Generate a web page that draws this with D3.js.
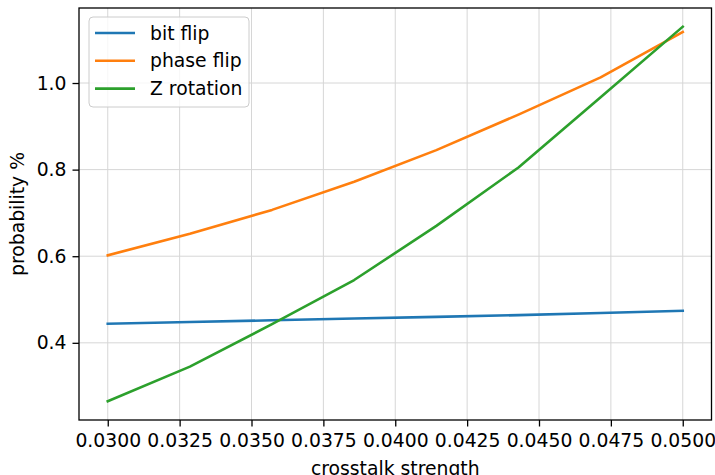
<!DOCTYPE html>
<html>
<head>
<meta charset="utf-8">
<script src="https://cdn.jsdelivr.net/npm/d3@7"></script>
<style>
  html, body { margin: 0; padding: 0; background: #fff; }
  svg { display: block; font-family: "DejaVu Sans", sans-serif; }
</style>
</head>
<body>
<svg id="chart" width="715" height="475"></svg>
<script>
// Crosstalk strength samples (8 evenly spaced points from 0.03 to 0.05)
const crosstalk = [0.03, 0.032857, 0.035714, 0.038571, 0.041429, 0.044286, 0.047143, 0.05];

// Error probabilities (%) per error type
const bitFlip   = [0.444, 0.448, 0.452, 0.456, 0.460, 0.464, 0.469, 0.474];
const phaseFlip = [0.602, 0.652, 0.707, 0.772, 0.845, 0.927, 1.013, 1.118];
const zRotation = [0.265, 0.345, 0.443, 0.545, 0.670, 0.805, 0.967, 1.130];

const seriesNames  = ["bit flip", "phase flip", "Z rotation"];
const seriesColors = ["#1f77b4", "#ff7f0e", "#2ca02c"];

const xTicks = [0.03, 0.0325, 0.035, 0.0375, 0.04, 0.0425, 0.045, 0.0475, 0.05];
const yTicks = [0.4, 0.6, 0.8, 1.0];

const series = [bitFlip, phaseFlip, zRotation].map((vals, i) => ({
  name: seriesNames[i],
  color: seriesColors[i],
  points: vals.map((v, j) => ({ x: crosstalk[j], y: v }))
}));

const svg = d3.select("#chart");
const plot = { left: 79, right: 711.5, top: 8, bottom: 420 };
const fontSize = 18.8;

// Axis limits with a 5% margin around the data extent
function padded(ext) {
  const d = (ext[1] - ext[0]) * 0.05;
  return [ext[0] - d, ext[1] + d];
}
const allY = [].concat(bitFlip, phaseFlip, zRotation);
const x = d3.scaleLinear().domain(padded(d3.extent(crosstalk))).range([plot.left, plot.right]);
const y = d3.scaleLinear().domain(padded(d3.extent(allY))).range([plot.bottom, plot.top]);

// Grid
const grid = svg.append("g").attr("stroke", "#d6d6d6").attr("stroke-width", 1);
xTicks.forEach(t => grid.append("line")
  .attr("x1", x(t)).attr("x2", x(t)).attr("y1", plot.top).attr("y2", plot.bottom));
yTicks.forEach(t => grid.append("line")
  .attr("x1", plot.left).attr("x2", plot.right).attr("y1", y(t)).attr("y2", y(t)));

// Lines
const line = d3.line().x(d => x(d.x)).y(d => y(d.y));
svg.append("g").selectAll("path").data(series).join("path")
  .attr("d", d => line(d.points))
  .attr("fill", "none")
  .attr("stroke", d => d.color)
  .attr("stroke-width", 2.6)
  .attr("stroke-linecap", "square")
  .attr("stroke-linejoin", "round");

// Axes
const xAxis = d3.axisBottom(x).tickValues(xTicks).tickFormat(d3.format(".4f"))
  .tickSize(6.5).tickPadding(7);
const yAxis = d3.axisLeft(y).tickValues(yTicks).tickFormat(d3.format(".1f"))
  .tickSize(6.5).tickPadding(6);

const gx = svg.append("g").attr("transform", `translate(0,${plot.bottom})`).call(xAxis);
const gy = svg.append("g").attr("transform", `translate(${plot.left},0)`).call(yAxis);
[gx, gy].forEach(g => {
  g.select(".domain").remove();
  g.selectAll(".tick line").attr("stroke", "#000").attr("stroke-width", 1.3);
  g.selectAll(".tick text").attr("fill", "#000")
    .style("font-family", "'DejaVu Sans', sans-serif").style("font-size", fontSize + "px");
});

// Frame
svg.append("rect")
  .attr("x", plot.left).attr("y", plot.top)
  .attr("width", plot.right - plot.left).attr("height", plot.bottom - plot.top)
  .attr("fill", "none").attr("stroke", "#000").attr("stroke-width", 1.3);

// Axis titles
svg.append("text")
  .attr("x", (plot.left + plot.right) / 2).attr("y", 475)
  .attr("text-anchor", "middle").style("font-size", fontSize + "px")
  .text("crosstalk strength");
svg.append("text")
  .attr("transform", `translate(24,${(plot.top + plot.bottom) / 2}) rotate(-90)`)
  .attr("text-anchor", "middle").style("font-size", fontSize + "px")
  .text("probability %");

// Legend
const legend = svg.append("g").attr("transform", "translate(89,17)");
legend.append("rect")
  .attr("width", 160).attr("height", 90).attr("rx", 4)
  .attr("fill", "#fff").attr("fill-opacity", 0.8)
  .attr("stroke", "#cccccc").attr("stroke-width", 1);
const items = legend.selectAll("g.item").data(series).join("g")
  .attr("class", "item")
  .attr("transform", (d, i) => `translate(0,${16 + i * 27.8})`);
items.append("line")
  .attr("x1", 6).attr("x2", 46).attr("y1", 0).attr("y2", 0)
  .attr("stroke", d => d.color).attr("stroke-width", 2.6);
items.append("text")
  .attr("x", 61).attr("y", 0).attr("dy", "0.35em")
  .style("font-size", fontSize + "px")
  .text(d => d.name);
</script>
</body>
</html>
